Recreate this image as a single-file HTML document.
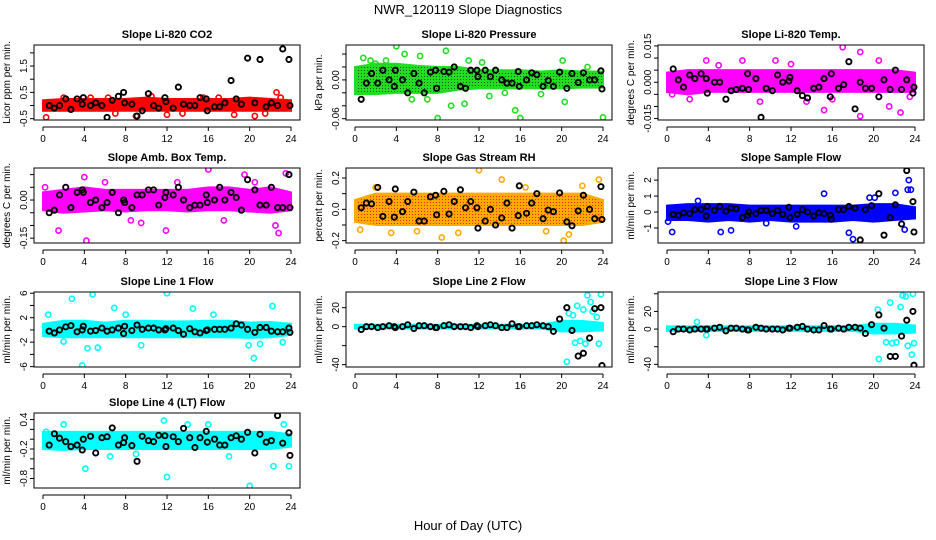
<!DOCTYPE html>
<html><head><meta charset="utf-8">
<style>
html,body{margin:0;padding:0;background:#fff;}
svg{display:block;font-family:"Liberation Sans",sans-serif;}
</style></head>
<body>
<svg id="chart" width="936" height="540" viewBox="0 0 936 540" xmlns="http://www.w3.org/2000/svg">
<defs>
<pattern id="patGreen" width="3" height="3" patternUnits="userSpaceOnUse"><rect width="3" height="3" fill="#22dd22"/><rect x="1" y="1" width="1" height="1" fill="#115511"/></pattern>
<pattern id="patOrange" width="3" height="3" patternUnits="userSpaceOnUse"><rect width="3" height="3" fill="#ffaa00"/><rect x="1" y="1" width="1" height="1" fill="#ff2200"/></pattern>
</defs>
<text x="468" y="14" text-anchor="middle" font-size="13">NWR_120119  Slope Diagnostics</text>
<text x="468" y="530" text-anchor="middle" font-size="13">Hour of Day (UTC)</text>
</svg>
<script>
// Shared times of black (reference) points, hours UTC
const blackTimes = [0.6,1.1,1.6,2.2,2.7,3.3,3.8,3.9,4.6,5.1,5.7,6.2,6.7,7.3,7.8,7.9,8.6,9.1,9.6,10.2,10.7,11.2,11.8,11.9,12.6,13.1,13.6,14.2,14.7,15.2,15.8,15.9,16.6,17.1,17.6,18.2,18.7,19.2,19.8,20.5,21.0,21.6,22.1,22.7,23.2,23.8,23.9];
const bandHours = [0,2,4,6,8,10,12,14,16,18,20,22,24];
const xTicks = [0,4,8,12,16,20,24];

// Panel titles / units / colours
const titles = ["Slope Li-820 CO2","Slope Li-820 Pressure","Slope Li-820 Temp.","Slope Amb. Box Temp.","Slope Gas Stream RH","Slope Sample Flow","Slope Line 1 Flow","Slope Line 2 Flow","Slope Line 3 Flow","Slope Line 4 (LT) Flow"];
const yTitles = ["Licor ppm per min.","kPa per min.","degrees C per min.","degrees C per min.","percent per min.","ml/min per min.","ml/min per min.","ml/min per min.","ml/min per min.","ml/min per min."];
const colors = ["#ff0000","#22dd22","#ff00ff","#ff00ff","#ffaa00","#0000ff","#00ffff","#00ffff","#00ffff","#00ffff"];
const bandFills = ["#ff0000","url(#patGreen)","#ff00ff","#ff00ff","url(#patOrange)","#0000ff","#00ffff","#00ffff","#00ffff","#00ffff"];

// Y limits (box edges) and ticks
const yLims = [[-0.55,2.3],[-0.062,0.054],[-0.0156,0.0154],[-0.169,0.126],[-0.215,0.264],[-1.94,2.76],[-6.06,6.2],[-42.5,36.5],[-43,42],[-0.993,0.533]];
const yTicks = [[-0.5,0,0.5,1,1.5,2],[-0.06,-0.04,-0.02,0,0.02,0.04],[-0.015,-0.01,-0.005,0,0.005,0.01,0.015],[-0.15,-0.1,-0.05,0,0.05,0.1],[-0.2,-0.1,0,0.1,0.2],[-1,0,1,2],[-6,-4,-2,0,2,4,6],[-40,-20,0,20],[-40,-20,0,20,40],[-0.8,-0.6,-0.4,-0.2,0,0.2,0.4]];
const yTickLabels = [["-0.5","","0.5","","1.5",""],["-0.06","","","0.00","",""],["-0.015","","","0.000","","","0.015"],["-0.15","","","0.00","",""],["-0.2","","0.0","","0.2"],["-1","0","1","2"],["-6","","-2","","2","","6"],["-40","","0","20"],["-40","","0","20",""],["-0.8","","","-0.2","","","0.4"]];

// Coloured band (dense cloud) low / high per bandHours
const bandLow = [
 [-0.2,-0.2,-0.2,-0.2,-0.2,-0.2,-0.2,-0.2,-0.2,-0.2,-0.2,-0.2,-0.2],
 [-0.022,-0.022,-0.02,-0.02,-0.02,-0.015,-0.013,-0.013,-0.013,-0.013,-0.013,-0.012,-0.012],
 [-0.004,-0.005,-0.004,-0.004,-0.004,-0.004,-0.004,-0.004,-0.004,-0.004,-0.004,-0.004,-0.004],
 [-0.04,-0.05,-0.045,-0.04,-0.045,-0.04,-0.04,-0.045,-0.04,-0.04,-0.045,-0.05,-0.04],
 [-0.08,-0.1,-0.1,-0.1,-0.1,-0.1,-0.1,-0.1,-0.1,-0.1,-0.1,-0.1,-0.08],
 [-0.5,-0.5,-0.6,-0.5,-0.6,-0.5,-0.6,-0.6,-0.6,-0.5,-0.6,-0.5,-0.4],
 [-1.0,-1.2,-1.2,-1.2,-1.2,-1.2,-1.2,-1.2,-1.2,-1.2,-1.3,-1.2,-0.8],
 [-2,-2,-2,-2,-2,-2,-2,-2,-2,-2,-5,-5,-4],
 [-2,-2,-2,-2,-2,-2,-2,-2,-2,-2,-5,-5,-4],
 [-0.2,-0.22,-0.2,-0.2,-0.2,-0.2,-0.2,-0.2,-0.2,-0.2,-0.2,-0.2,-0.15]];
const bandHigh = [
 [0.2,0.25,0.25,0.25,0.25,0.3,0.25,0.25,0.25,0.25,0.3,0.25,0.2],
 [0.02,0.025,0.025,0.022,0.02,0.02,0.015,0.015,0.015,0.013,0.015,0.013,0.013],
 [0.004,0.005,0.005,0.005,0.005,0.005,0.005,0.005,0.005,0.005,0.005,0.005,0.004],
 [0.03,0.04,0.05,0.04,0.04,0.04,0.04,0.04,0.05,0.05,0.04,0.05,0.03],
 [0.06,0.1,0.1,0.1,0.1,0.1,0.1,0.1,0.1,0.1,0.1,0.1,0.06],
 [0.4,0.5,0.5,0.5,0.4,0.4,0.4,0.4,0.4,0.4,0.5,0.5,0.3],
 [1.0,1.5,1.5,1.2,1.5,1.5,1.4,1.4,1.5,1.5,1.2,1.3,1.0],
 [2,2,2,2,2,2,2,2,2,2,6,6,4],
 [3,3,3,3,3,3,3,3,3,3,6,6,4],
 [0.15,0.15,0.15,0.15,0.15,0.15,0.15,0.15,0.15,0.15,0.15,0.15,0.1]];

// Coloured outliers (x hours, y values)
const outX = [
 [0.3,6.3,20.5,22.6,23,9,12,15.5,4.6,18.5,2,7,10.5,13.5,17,21.5],
 [4,8.8,4.8,0.8,7,15.5,16,8,24,10.6,9.3,20.3,1.5,6.3,12.3,20.1,3,2,18,13,5.5,11,14.5,22.5],
 [17,18.7,0.5,15.2,18.7,22.6,3.8,12,21.5,9,16,7.3,2.2,5,10.5,13.5,20.5,23.5],
 [16,4.2,1.5,22.8,11.9,9.5,19.5,23.5,4,0.2,22.5,6,8.5,13,17.5,20.5],
 [12,20.2,8.4,14.2,23.6,20.7,0.5,3.5,2,6,10,16.5,18.5,22],
 [0.5,5.2,6.2,15.2,18,17.6,23.4,23.3,23.6,19.6,22.1,0.1,9.6,23,20.1,3,12.5],
 [3.8,12,20.4,2.8,4.8,4.3,5.3,19.9,6.9,22.2,14.5,2,21,23.2,0.5,9.5,8,16.5],
 [20.5,22.5,23.8,21.5,20.7,22.8,21.1,23.4,21.3,21.8,22.3,23.6,22.1,20.2,23],
 [20.5,22.8,23.8,21.6,20.4,23.1,22.6,21.2,21.8,22.2,23.3,23.7,23.9,3.8,2.9],
 [20,12,4.1,22.3,23.8,11.7,0.3,23.3,16,9,2,6.5,14,18]];
const outY = [
 [-0.45,0.3,-0.4,0.5,0.3,-0.4,-0.35,0.3,0.3,-0.35,0.3,-0.3,0.35,-0.3,0.3,-0.3],
 [0.052,0.045,0.04,0.034,-0.03,-0.047,-0.059,-0.059,-0.058,-0.037,-0.04,-0.034,0.03,0.037,0.027,0.03,0.03,0.025,-0.022,-0.025,-0.03,0.03,-0.02,0.02],
 [0.0145,0.0125,-0.005,-0.0115,-0.014,-0.0125,0.009,0.0075,-0.01,-0.008,-0.007,0.009,-0.007,0.007,0.009,-0.008,0.009,-0.006],
 [0.12,-0.16,-0.12,-0.13,-0.12,-0.09,0.1,0.105,0.09,0.05,-0.1,0.07,-0.08,0.07,-0.08,0.07],
 [0.25,-0.2,-0.18,0.19,0.19,-0.16,-0.13,-0.15,0.14,-0.14,-0.15,0.14,-0.14,0.15],
 [-1.25,-1.25,-1.15,1.15,-1.7,-1.3,2,1.4,1.4,0.9,1.2,-0.6,-0.7,-1.1,0.9,0.7,-0.9],
 [-5.8,6,-4.6,5.1,5.8,-3,-2.9,-2.5,3.6,3.9,3.5,-1.9,-2.3,-2,2.5,-2.5,2.5,2.5],
 [-37,33,34,22,14,26,12,10,-17,-15,-18,-18,18,4,16],
 [-34,38,40,30,22,37,25,-15,-16,-15,-19,-29,-16,-7,8],
 [-0.95,-0.77,-0.6,-0.55,-0.55,0.38,0.15,0.3,0.3,-0.3,0.3,-0.35,0.3,-0.35]];

// Black reference point values at blackTimes
const blackY = [
 [0,-0.1,0,0.25,-0.15,0.25,0.05,0.3,0,0.1,0,-0.45,0.2,0.35,0.5,0.1,0.05,-0.4,-0.2,0.45,0,-0.1,0.3,0.15,-0.1,0.7,0.05,0,0,0.3,0.25,-0.2,-0.05,-0.05,0.1,0.95,0.25,0.05,1.8,0.1,1.75,-0.05,0.1,0,2.15,1.75,0],
 [-0.03,-0.005,0.01,-0.005,0.015,0,-0.01,0.015,0,-0.02,0.01,-0.005,-0.02,0.012,0.015,-0.013,0.013,0.012,0.02,-0.01,-0.013,0.015,0.015,0.005,0.015,0.005,0.015,0,-0.005,-0.005,0.013,-0.01,0,0.011,0.008,-0.01,-0.001,-0.01,0.012,-0.013,0.01,-0.004,0.011,0,0,0.014,-0.014],
 [0.0055,0.001,-0.002,0.003,0.0015,0.0035,0.0015,-0.0045,0,0,-0.007,-0.0035,-0.003,-0.0025,0.0035,-0.003,0.0015,-0.0145,-0.0025,-0.0035,0.003,0,0.0005,0.002,-0.0035,-0.0055,-0.0065,-0.0025,-0.002,0.0015,-0.006,0.0035,-0.0025,-0.001,0.0085,-0.011,0,-0.0025,-0.0025,-0.006,0.001,-0.003,0.005,-0.003,0.001,-0.0045,-0.002],
 [-0.05,-0.04,0.02,0.05,-0.03,0.03,0.04,0.03,-0.01,0,-0.03,-0.01,0.03,-0.05,0,-0.01,-0.03,0.02,0.02,0.04,0.04,-0.02,0.01,0.03,0.02,0.05,0,-0.03,-0.02,-0.02,0.02,-0.01,0,0.05,0,0.03,0.01,-0.04,0.08,0.04,-0.02,-0.02,0.05,-0.03,-0.03,0.1,-0.03],
 [0.01,0.04,0.035,0.14,-0.045,0.05,-0.05,0.13,-0.015,0.05,0.11,-0.075,-0.075,0.08,0.09,-0.035,0.115,-0.03,0.05,0.125,0.01,0.05,0.01,-0.12,-0.075,0,-0.1,-0.055,0.04,-0.12,-0.04,0.15,-0.025,0.04,0.1,-0.06,-0.005,-0.015,0.105,-0.08,-0.105,-0.01,0.09,0,-0.06,0.145,-0.065],
 [-0.15,-0.2,-0.05,-0.1,0.15,0.15,-0.25,0.35,0.1,0.35,0.05,0.25,0.2,-0.35,-0.2,0,-0.1,0.1,0.1,-0.1,0.1,-0.15,0.3,-0.35,-0.15,0.15,0,-0.25,-0.05,-0.1,-0.2,-0.45,0.15,0.15,0.35,0.25,-1.75,0.15,0.4,1.15,-1.45,-0.35,0.45,-0.75,2.6,0.65,-1.25],
 [-0.2,-0.5,0,0.5,0.7,-0.3,0,0.6,-0.2,-0.1,0.3,-0.2,0,0.3,-0.6,0.6,-0.1,0.8,0.1,0.3,0.3,0,0,0.2,0.3,-0.1,-0.7,0.2,-0.3,-0.5,-0.1,0,0.1,0.1,0.1,0.3,1,0.8,0.1,-0.4,0.4,0.4,-0.2,-0.3,-0.3,0.3,-0.4],
 [-3,0,0,-1,0,1,0,-1,0,2,-2,1,1,0,-1,-1,1,2,0,0,0,-1,1,0,1,2,1,-1,-1,3,0,0,1,1,2,1,0,-5,8,20,-4,-31,-28,-12,19,20,-41],
 [-3,0,0,-1,0,0,0,0,1,2,-2,1,1,0,-1,-1,2,1,0,0,0,-1,1,1,2,3,0,-1,-1,4,0,0,1,0,2,2,1,-5,5,16,1,-31,-31,-8,10,20,-41],
 [-0.12,0.11,0.02,-0.05,-0.15,-0.12,-0.22,0,0.06,-0.28,0.03,0.05,0.23,-0.12,-0.07,0.03,-0.13,-0.45,0.06,-0.03,-0.05,0.08,0.07,-0.15,0.05,-0.05,0.22,0.03,-0.17,0.03,0.16,-0.06,0,-0.12,-0.12,0.03,0.07,0,0.14,-0.28,0.1,-0.06,-0.03,0.48,-0.08,0.13,-0.33]];

const NS = "http://www.w3.org/2000/svg";
const svg = document.getElementById("chart");
const colLeft = [34,346,658], rowTop = [45,168,292,413], boxW = 266, boxH = 75;
function mk(tag, attrs, parent){const e=document.createElementNS(NS,tag);for(const k in attrs)e.setAttribute(k,attrs[k]);(parent||svg).appendChild(e);return e;}

titles.forEach((title, p) => {
  const L = colLeft[p%3], T = rowTop[Math.floor(p/3)];
  const [lo, hi] = yLims[p];
  const xS = h => L + 9 + h * (248/24);
  const yS = v => T + (hi - v) / (hi - lo) * boxH;
  const g = mk("g", {});
  
  
  const clipId = "clip" + p;
  const cp = mk("clipPath", {id: clipId}, g);
  mk("rect", {x: L, y: T, width: boxW, height: boxH}, cp);
  const t = mk("text", {x: L + boxW/2, y: T - 7, "text-anchor": "middle", "font-size": "11", "font-weight": "bold"}, g);
  t.textContent = title;
  
  
  const yt = mk("text", {x: 0, y: 0, "text-anchor": "middle", "font-size": "10", transform: `translate(${L-24},${T+boxH/2}) rotate(-90)`}, g);
  yt.textContent = yTitles[p];
  
  
  yTicks[p].forEach((v, i) => {
    const y = yS(v);
    mk("line", {x1: L-4, x2: L, y1: y, y2: y, stroke: "#000"}, g);
    if (yTickLabels[p][i]) {
      const tl = mk("text", {x: 0, y: 0, "text-anchor": "middle", "font-size": "10", transform: `translate(${L-7},${y}) rotate(-90)`}, g);
      tl.textContent = yTickLabels[p][i];
      
      
    }
  });
  const yv = yTicks[p].map(yS);
  mk("line", {x1: L, x2: L, y1: Math.min(...yv), y2: Math.max(...yv), stroke: "#000"}, g);
  const ax = T + boxH + 7;
  mk("line", {x1: xS(0), x2: xS(24), y1: ax, y2: ax, stroke: "#000"}, g);
  xTicks.forEach(h => {
    mk("line", {x1: xS(h), x2: xS(h), y1: ax, y2: ax+4, stroke: "#000"}, g);
    const xl = mk("text", {x: xS(h), y: ax + 15, "text-anchor": "middle", "font-size": "10"}, g);
    xl.textContent = h;
    
    
  });
  const data = mk("g", {"clip-path": `url(#${clipId})`}, g);
  const pts = bandHours.map((h,i)=>`${xS(h)},${yS(bandHigh[p][i])}`).concat(bandHours.slice().reverse().map((h,i)=>`${xS(h)},${yS(bandLow[p][bandHours.length-1-i])}`)).join(" ");
  const band = mk("polygon", {points: pts, fill: bandFills[p], stroke: colors[p], "stroke-width": 2}, data);
  
  
  outX[p].forEach((h, i) => {
    const c = mk("circle", {cx: xS(h), cy: yS(outY[p][i]), r: 2.6, fill: "none", stroke: colors[p], "stroke-width": 1.6}, data);
    
    
  });
  blackTimes.forEach((h, i) => {
    const c = mk("circle", {cx: xS(h), cy: yS(blackY[p][i]), r: 2.6, fill: "none", stroke: "#000", "stroke-width": 1.9}, data);
    
    
  });
  mk("rect", {x: L, y: T, width: boxW, height: boxH, fill: "none", stroke: "#000"}, g);
});
</script>
</body></html>
